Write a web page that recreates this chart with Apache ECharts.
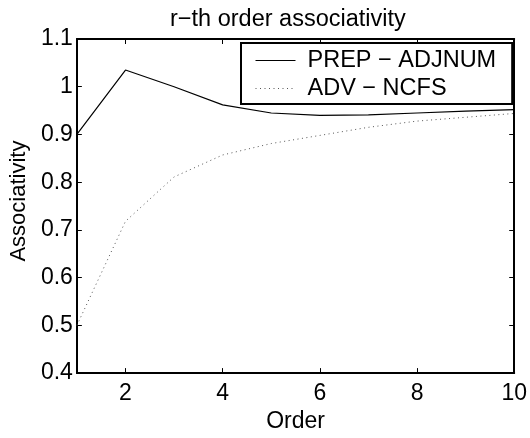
<!DOCTYPE html>
<html>
<head>
<meta charset="utf-8">
<script src="https://cdn.jsdelivr.net/npm/echarts@6/dist/echarts.min.js"></script>
<style>
  html, body { margin: 0; padding: 0; background: #fff; }
  #chart { width: 530px; height: 438px; }
</style>
</head>
<body>
<div id="chart"></div>
<script>
// Datos
var orders = [1, 2, 3, 4, 5, 6, 7, 8, 9, 10]
var prepAdjnum = [0.900, 1.035, 1.000, 0.962, 0.945, 0.940, 0.941, 0.945, 0.949, 0.952]
var advNcfs = [0.500, 0.718, 0.811, 0.857, 0.881, 0.898, 0.915, 0.928, 0.936, 0.944]
var xTicks = [2, 4, 6, 8, 10]

var FONT = '"Liberation Sans", Arial, Helvetica, sans-serif'

function pares(xs, ys) {
  return xs.map(function (x, i) { return [x, ys[i]] })
}

var chart = echarts.init(document.getElementById('chart'), null, { renderer: 'canvas' })

var axisLine = { show: true, lineStyle: { color: '#000', width: 2 } }

var option = {
  animation: false,
  backgroundColor: '#fff',
  textStyle: { fontFamily: FONT, color: '#000' },
  title: {
    text: 'r\u2212th order associativity',
    left: 165,
    top: 3,
    textStyle: { fontFamily: FONT, fontSize: 23.5, fontWeight: 'normal', color: '#000' }
  },
  grid: { left: 74, right: 13, top: 39, bottom: 50 },
  legend: {
    show: true,
    orient: 'vertical',
    left: 241,
    top: 43,
    padding: [5.5, 16, 3.5, 14],
    itemGap: 4,
    itemWidth: 40,
    itemHeight: 14,
    backgroundColor: '#fff',
    borderColor: '#000',
    borderWidth: 2,
    itemStyle: { opacity: 0 },
    lineStyle: { width: 1 },
    textStyle: { fontFamily: FONT, fontSize: 23.5, color: '#000', lineHeight: 23, padding: [0, 0, 0, 7] },
    data: ['PREP \u2212 ADJNUM', 'ADV \u2212 NCFS']
  },
  xAxis: [
    {
      type: 'value',
      min: 1,
      max: 10,
      name: 'Order',
      nameLocation: 'middle',
      nameGap: 25,
      nameTextStyle: { fontFamily: FONT, fontSize: 23, color: '#000' },
      axisLine: axisLine,
      splitLine: { show: false },
      axisTick: { inside: true, length: 5, customValues: xTicks, lineStyle: { color: '#000' } },
      axisLabel: { customValues: xTicks, margin: 9, fontFamily: FONT, fontSize: 23, color: '#000' }
    },
    {
      type: 'value',
      position: 'top',
      min: 1,
      max: 10,
      axisLine: axisLine,
      splitLine: { show: false },
      axisTick: { inside: true, length: 5, customValues: xTicks, lineStyle: { color: '#000' } },
      axisLabel: { show: false }
    }
  ],
  yAxis: [
    {
      type: 'value',
      min: 0.4,
      max: 1.1,
      interval: 0.1,
      name: 'Associativity',
      nameLocation: 'middle',
      nameGap: 44,
      nameTextStyle: { fontFamily: FONT, fontSize: 22, color: '#000', padding: [0, 0, 0, 10] },
      axisLine: axisLine,
      splitLine: { show: false },
      axisTick: { inside: true, length: 5, lineStyle: { color: '#000' } },
      axisLabel: {
        margin: 4,
        fontFamily: FONT,
        fontSize: 23,
        color: '#000',
        formatter: function (v) { return String(Math.round(v * 10) / 10) }
      }
    },
    {
      type: 'value',
      position: 'right',
      min: 0.4,
      max: 1.1,
      interval: 0.1,
      axisLine: axisLine,
      splitLine: { show: false },
      axisTick: { inside: true, length: 5, lineStyle: { color: '#000' } },
      axisLabel: { show: false }
    }
  ],
  series: [
    {
      name: 'PREP \u2212 ADJNUM',
      type: 'line',
      data: pares(orders, prepAdjnum),
      showSymbol: false,
      symbol: 'none',
      lineStyle: { color: '#000', width: 1.2, type: 'solid' },
      itemStyle: { color: '#000' }
    },
    {
      name: 'ADV \u2212 NCFS',
      type: 'line',
      data: pares(orders, advNcfs),
      showSymbol: false,
      symbol: 'none',
      lineStyle: { color: '#555', width: 1, type: [1, 3.5] },
      itemStyle: { color: '#555' }
    }
  ]
}

chart.setOption(option)
</script>
</body>
</html>
